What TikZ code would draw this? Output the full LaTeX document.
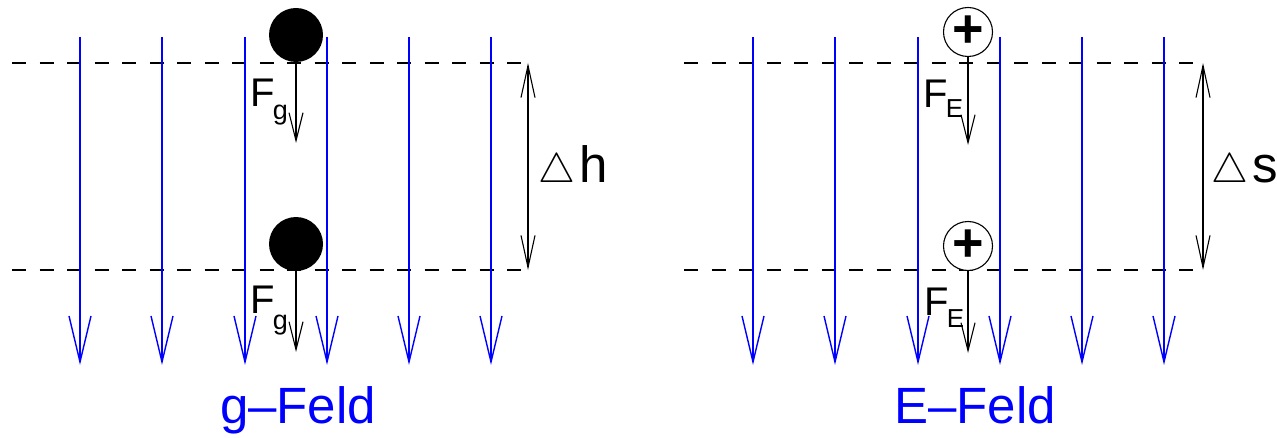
\documentclass[tikz,border=0pt]{standalone}
\usepackage{fontspec}
\setmainfont{Liberation Sans}
\usetikzlibrary{arrows.meta}
\definecolor{fieldblue}{RGB}{0,0,255}
\begin{document}
\begin{tikzpicture}[x=0.5pt,y=-0.5pt,
  field/.style={draw=fieldblue, line width=0.7pt, -{Straight Barb[length=23pt,width=11pt,line width=0.7pt]}},
  force/.style={draw=black, line width=0.55pt, -{Straight Barb[length=14pt,width=7pt,line width=0.55pt]}},
  level/.style={draw=black, line width=0.65pt, dash pattern=on 7pt off 6.75pt},
  measure/.style={draw=black, line width=0.55pt, {Straight Barb[length=16pt,width=7pt,line width=0.55pt]}-{Straight Barb[length=16pt,width=7pt,line width=0.55pt]}},
  ball/.style={circle, fill=black, minimum size=27pt, inner sep=0pt},
  charge/.style={circle, draw=black, line width=0.55pt, fill=white, minimum size=24.5pt, inner sep=0pt, font=\fontsize{27}{27}\selectfont\bfseries},
  flabel/.style={anchor=base west, inner sep=0pt, font=\fontsize{20}{20}\selectfont},
  delta/.style={anchor=base west, inner sep=0pt, font=\fontsize{25.5}{25.5}\selectfont},
  title/.style={anchor=base, inner sep=0pt, text=fieldblue, font=\fontsize{25.5}{25.5}\selectfont}]
\useasboundingbox (0,0) rectangle (1277,438);

% ---------- left panel: g-Feld ----------
\coordinate (l1a) at (12,63);  \coordinate (l1b) at (523,63);
\coordinate (l2a) at (12,270); \coordinate (l2b) at (523,270);
\draw[level] (l1a) -- (l1b);
\draw[level] (l2a) -- (l2b);
\foreach \i/\x in {1/80,2/162,3/245,4/327,5/409,6/491}{
  \coordinate (gt\i) at (\x,37);
  \coordinate (gb\i) at (\x,365);
  \draw[field] (gt\i) -- (gb\i);
}
\node[ball] (m1) at (296,35) {};
\node[ball] (m2) at (296,244) {};
\coordinate (f1) at (296,143);
\coordinate (f2) at (296,352);
\draw[force] (m1.south) -- (f1);
\draw[force] (m2.south) -- (f2);
\node[flabel] (fg1) at (250,107) {F\kern-1pt\raisebox{-6.5pt}{\fontsize{13.5}{13.5}\selectfont g}};
\node[flabel] (fg2) at (250,313) {F\kern-1pt\raisebox{-8pt}{\fontsize{13.5}{13.5}\selectfont g}};
\coordinate (h1) at (528,63);
\coordinate (h2) at (528,270);
\draw[measure] (h1) -- (h2);
\node[delta] (dh) at (538,183) {{\fontsize{20}{20}\selectfont$\triangle$}\kern2pt h};
\node[title] (tg) at (298,423) {g–Feld};

% ---------- right panel: E-Feld ----------
\coordinate (r1a) at (684,63);  \coordinate (r1b) at (1195,63);
\coordinate (r2a) at (684,270); \coordinate (r2b) at (1195,270);
\draw[level] (r1a) -- (r1b);
\draw[level] (r2a) -- (r2b);
\foreach \i/\x in {1/753,2/835,3/918,4/1000,5/1082,6/1164}{
  \coordinate (et\i) at (\x,37);
  \coordinate (eb\i) at (\x,365);
  \draw[field] (et\i) -- (eb\i);
}
\node[charge] (q1) at (968,32) {+};
\node[charge] (q2) at (968,246) {+};
\coordinate (e1) at (968,145);
\coordinate (e2) at (968,353);
\draw[force] (q1.south) -- (e1);
\draw[force] (q2.south) -- (e2);
\node[flabel] (fe1) at (923,108) {F\kern-1pt\raisebox{-5pt}{\fontsize{13}{13}\selectfont E}};
\node[flabel] (fe2) at (924,315) {F\kern-1pt\raisebox{-6pt}{\fontsize{13}{13}\selectfont E}};
\coordinate (s1) at (1203,63);
\coordinate (s2) at (1203,270);
\draw[measure] (s1) -- (s2);
\node[delta] (ds) at (1211,183) {{\fontsize{20}{20}\selectfont$\triangle$}\kern2pt s};
\node[title] (te) at (975,423) {E–Feld};
\end{tikzpicture}
\end{document}
